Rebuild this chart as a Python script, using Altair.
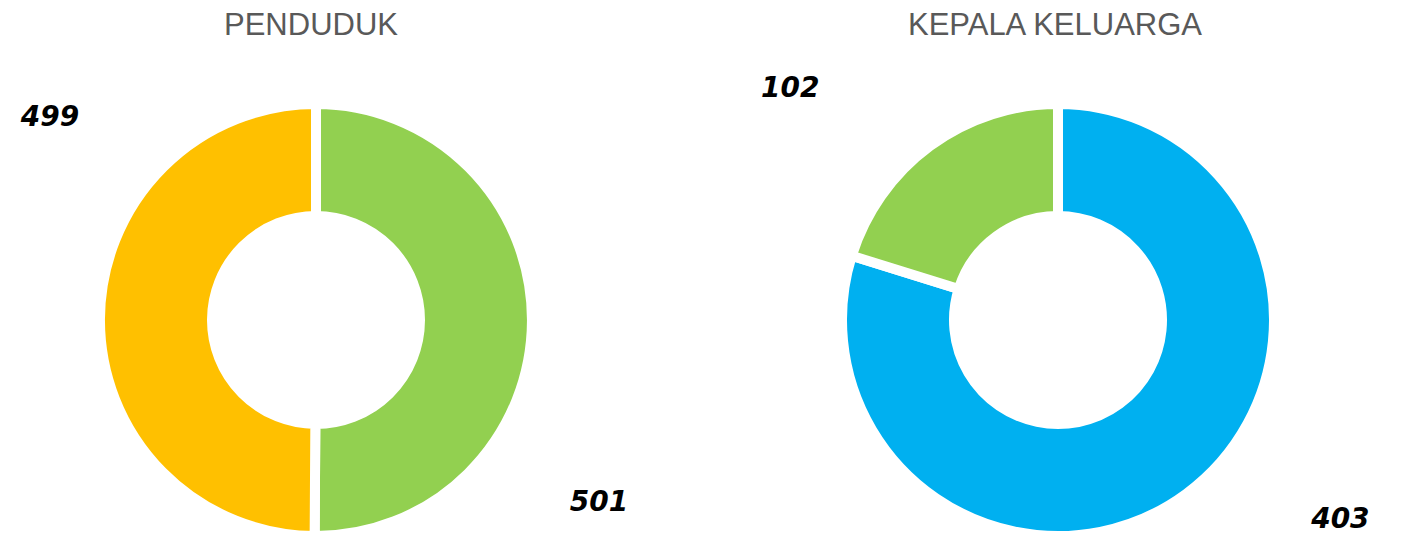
import altair as alt
import pandas as pd

# ---- data ----
pend_kategori = ["Perempuan", "Laki-laki"]
pend_jumlah = [501, 499]
kk_kategori = ["Laki-laki", "Perempuan"]
kk_jumlah = [403, 102]

judul = ["PENDUDUK", "KEPALA KELUARGA"]

GREEN = "#92D050"
ORANGE = "#FFC000"
BLUE = "#00B0F0"

W, H = 699, 524
CY = 312


def panel(title, cats, vals, colors, cx, tx, label_pos):
    df = pd.DataFrame({"kategori": cats, "jumlah": vals, "urut": list(range(len(cats)))})
    base = alt.Chart(df)
    arcs = base.mark_arc(innerRadius=104, outerRadius=216, stroke="white", strokeWidth=10).encode(
        theta=alt.Theta("jumlah:Q", stack=True),
        color=alt.Color("kategori:N", scale=alt.Scale(domain=cats, range=colors), legend=None),
        order=alt.Order("urut:Q"),
        x=alt.value(cx),
        y=alt.value(CY),
    )
    layers = [arcs]
    for cat, (ang, rad) in zip(cats, label_pos):
        lbl = base.transform_filter(alt.datum.kategori == cat).mark_text(
            font="DejaVu Sans", fontSize=28, fontWeight="bold", fontStyle="italic",
            color="black", align="center", baseline="middle",
        ).encode(
            text=alt.Text("jumlah:Q"),
            theta=alt.value(ang),
            radius=alt.value(rad),
            x=alt.value(cx),
            y=alt.value(CY),
        )
        layers.append(lbl)
    t = alt.Chart(pd.DataFrame({"judul": [title]})).mark_text(
        font="Liberation Sans", fontSize=31, color="#595959", align="center", baseline="middle",
    ).encode(text="judul:N", x=alt.value(tx), y=alt.value(18))
    layers.append(t)
    return alt.layer(*layers).properties(width=W, height=H)


left = panel(judul[0], pend_kategori, pend_jumlah, [GREEN, ORANGE], 308, 303,
             [(2.145, 337), (5.362, 334)])
right = panel(judul[1], kk_kategori, kk_jumlah, [BLUE, GREEN], 351, 348,
              [(2.187, 346), (5.425, 354)])

chart = alt.hconcat(left, right, spacing=0).resolve_scale(color="independent").properties(
    padding=0
).configure_view(stroke=None)

chart.save("out.html", embed_options={"renderer": "svg", "actions": False})
